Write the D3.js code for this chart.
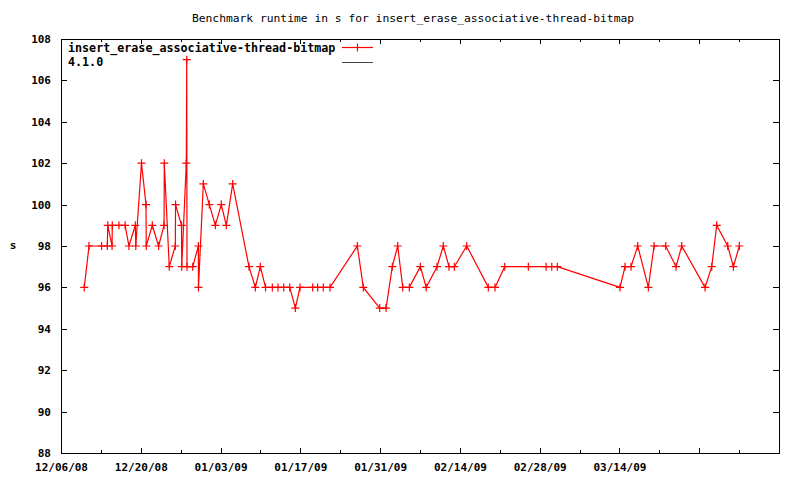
<!DOCTYPE html>
<html>
<head>
<meta charset="utf-8">
<script src="https://cdn.jsdelivr.net/npm/d3@7"></script>
<style>
  html, body { margin: 0; padding: 0; background: #fff; }
  svg { display: block; }
</style>
</head>
<body>
<script>
// ---------------- data ----------------
const chartTitle = "Benchmark runtime in s for insert_erase_associative-thread-bitmap";
const seriesName = "insert_erase_associative-thread-bitmap";
const seriesName2 = "4.1.0";
const yAxisLabel = "s";

const runDates = [
  "2008-12-10 02:00","2008-12-10 22:00","2008-12-13 03:00","2008-12-14 03:00","2008-12-14 05:00",
  "2008-12-14 23:00","2008-12-15 00:00","2008-12-16 04:00","2008-12-17 06:00","2008-12-17 22:00",
  "2008-12-19 01:00","2008-12-19 03:00","2008-12-20 03:00","2008-12-20 22:00","2008-12-20 23:00",
  "2008-12-22 00:30","2008-12-23 03:00","2008-12-24 02:00","2008-12-24 03:00","2008-12-25 00:00",
  "2008-12-26 01:30","2008-12-26 02:30","2008-12-27 03:30","2008-12-27 04:30","2008-12-27 23:45",
  "2008-12-28 01:30","2008-12-28 02:45","2008-12-29 02:45","2008-12-30 02:30","2008-12-30 03:00",
  "2008-12-30 23:30","2009-01-01 00:45","2009-01-02 02:00","2009-01-03 03:00","2009-01-04 00:15",
  "2009-01-05 03:00","2009-01-07 23:45","2009-01-09 02:30","2009-01-09 23:30","2009-01-10 21:30",
  "2009-01-12 02:00","2009-01-13 02:00","2009-01-14 02:00","2009-01-15 03:20","2009-01-16 03:00",
  "2009-01-16 22:40","2009-01-19 04:00","2009-01-20 01:00","2009-01-21 00:45","2009-01-22 05:00",
  "2009-01-27 00:00","2009-01-28 01:15","2009-01-30 22:20","2009-02-01 01:00","2009-02-02 03:20",
  "2009-02-03 02:10","2009-02-03 23:15","2009-02-05 03:00","2009-02-07 01:30","2009-02-08 02:10",
  "2009-02-09 23:45","2009-02-11 02:10","2009-02-12 02:10","2009-02-13 00:30","2009-02-15 04:50",
  "2009-02-18 23:45","2009-02-20 04:00","2009-02-21 20:50","2009-02-26 00:15","2009-03-01 03:00",
  "2009-03-02 03:00","2009-03-03 02:30","2009-03-14 02:30","2009-03-14 23:30","2009-03-16 00:45",
  "2009-03-17 05:00","2009-03-19 01:40","2009-03-20 01:40","2009-03-22 03:00","2009-03-23 22:20",
  "2009-03-24 22:20","2009-03-29 00:30","2009-03-30 04:40","2009-03-31 01:40","2009-04-02 00:00",
  "2009-04-02 23:45","2009-04-04 01:00"
];
const runtimes = [
  96,98,98,98,99,
  98,99,99,99,98,
  99,98,102,100,98,
  99,98,99,102,97,
  98,100,99,97,102,
  107,97,97,98,96,
  101,100,99,100,99,
  101,97,96,97,96,
  96,96,96,96,95,
  96,96,96,96,96,
  98,96,95,95,97,
  98,96,96,97,96,
  97,98,97,97,98,
  96,96,97,97,97,
  97,97,96,97,97,
  98,96,98,98,97,
  98,96,97,99,98,
  97,98
];

const xDomain = ["2008-12-06", "2009-04-11"];
const xMajorTicks = ["2008-12-06","2008-12-20","2009-01-03","2009-01-17","2009-01-31",
                     "2009-02-14","2009-02-28","2009-03-14","2009-03-28","2009-04-11"];
const xMajorLabels = ["12/06/08","12/20/08","01/03/09","01/17/09","01/31/09",
                      "02/14/09","02/28/09","03/14/09","",""];
const xMinorTicks = ["2008-12-13","2008-12-27","2009-01-10","2009-01-24","2009-02-07",
                     "2009-02-21","2009-03-07","2009-03-21","2009-04-04"];
const yDomain = [88, 108];
const yTicks = [88, 90, 92, 94, 96, 98, 100, 102, 104, 106, 108];

// ---------------- drawing ----------------
(function () {
const W = 800, H = 480;
const pL = 61, pR = 779, pT = 39, pB = 453;
const FONT = "'DejaVu Sans Mono', 'Liberation Mono', monospace";

const parseT = d3.utcParse("%Y-%m-%d %H:%M");
const parseD = d3.utcParse("%Y-%m-%d");

const svg = d3.select("body").append("svg").attr("width", W).attr("height", H);

const x = d3.scaleUtc().domain(xDomain.map(parseD)).range([pL, pR]);
const y = d3.scaleLinear().domain(yDomain).range([pB, pT]);

const data = runDates.map((d, i) => ({ t: parseT(d), v: runtimes[i] }));

// title
svg.append("text")
  .attr("x", 413).attr("y", 22)
  .attr("text-anchor", "middle")
  .attr("font-family", FONT).attr("font-size", 11.3)
  .attr("fill", "#000")
  .text(chartTitle);

// y label
svg.append("text")
  .attr("x", 13).attr("y", 249)
  .attr("text-anchor", "middle")
  .attr("font-family", FONT).attr("font-size", 11).attr("font-weight", "bold")
  .text(yAxisLabel);

function styleAxis(g) {
  g.select(".domain").remove();
  g.selectAll(".tick line").attr("stroke", "#000").attr("shape-rendering", "crispEdges");
  g.selectAll(".tick text")
    .attr("font-family", FONT).attr("font-size", 11).attr("font-weight", "bold")
    .attr("fill", "#000");
}

const majorIdx = new Map(xMajorTicks.map((d, i) => [+parseD(d), xMajorLabels[i]]));

// bottom major with labels
svg.append("g").attr("transform", `translate(0,${pB})`)
  .call(d3.axisBottom(x).tickValues(xMajorTicks.map(parseD))
    .tickFormat(d => majorIdx.get(+d)).tickSize(-5).tickPadding(10))
  .call(styleAxis);
// bottom minor
svg.append("g").attr("transform", `translate(0,${pB})`)
  .call(d3.axisBottom(x).tickValues(xMinorTicks.map(parseD)).tickFormat("").tickSize(-3))
  .call(styleAxis);
// top mirror
svg.append("g").attr("transform", `translate(0,${pT})`)
  .call(d3.axisTop(x).tickValues(xMajorTicks.map(parseD)).tickFormat("").tickSize(-5))
  .call(styleAxis);
svg.append("g").attr("transform", `translate(0,${pT})`)
  .call(d3.axisTop(x).tickValues(xMinorTicks.map(parseD)).tickFormat("").tickSize(-3))
  .call(styleAxis);

// y left with labels
svg.append("g").attr("transform", `translate(${pL},0)`)
  .call(d3.axisLeft(y).tickValues(yTicks).tickFormat(d3.format("d")).tickSize(-6).tickPadding(10))
  .call(styleAxis);
// y right mirror
svg.append("g").attr("transform", `translate(${pR},0)`)
  .call(d3.axisRight(y).tickValues(yTicks).tickFormat("").tickSize(-6))
  .call(styleAxis);

// border
svg.append("rect")
  .attr("x", pL + 0.5).attr("y", pT + 0.5)
  .attr("width", pR - pL).attr("height", pB - pT)
  .attr("fill", "none").attr("stroke", "#000").attr("stroke-width", 1)
  .attr("shape-rendering", "crispEdges");

// data line
const line = d3.line().x(d => x(d.t)).y(d => y(d.v));
svg.append("path").datum(data)
  .attr("d", line)
  .attr("fill", "none").attr("stroke", "#ff0000").attr("stroke-width", 1.2);

// points
const cross = "M-4,0H4M0,-4V4";
svg.append("g").selectAll("path").data(data).join("path")
  .attr("transform", d => `translate(${x(d.t)},${y(d.v)})`)
  .attr("d", cross)
  .attr("fill", "none").attr("stroke", "#ff0000").attr("stroke-width", 1.2);

// legend
const lg = svg.append("g");
lg.append("text").attr("x", 68).attr("y", 52)
  .attr("font-family", FONT).attr("font-size", 11.7).attr("font-weight", "bold")
  .text(seriesName);
lg.append("line").attr("x1", 342).attr("x2", 373).attr("y1", 47.5).attr("y2", 47.5)
  .attr("stroke", "#ff0000").attr("stroke-width", 1.2);
lg.append("path").attr("transform", "translate(357.5,47.5)").attr("d", cross)
  .attr("stroke", "#ff0000").attr("stroke-width", 1.2);
lg.append("text").attr("x", 68).attr("y", 66)
  .attr("font-family", FONT).attr("font-size", 11.7).attr("font-weight", "bold")
  .text(seriesName2);
lg.append("line").attr("x1", 342).attr("x2", 373).attr("y1", 62.5).attr("y2", 62.5)
  .attr("stroke", "#444").attr("stroke-width", 1);
})();
</script>
</body>
</html>
